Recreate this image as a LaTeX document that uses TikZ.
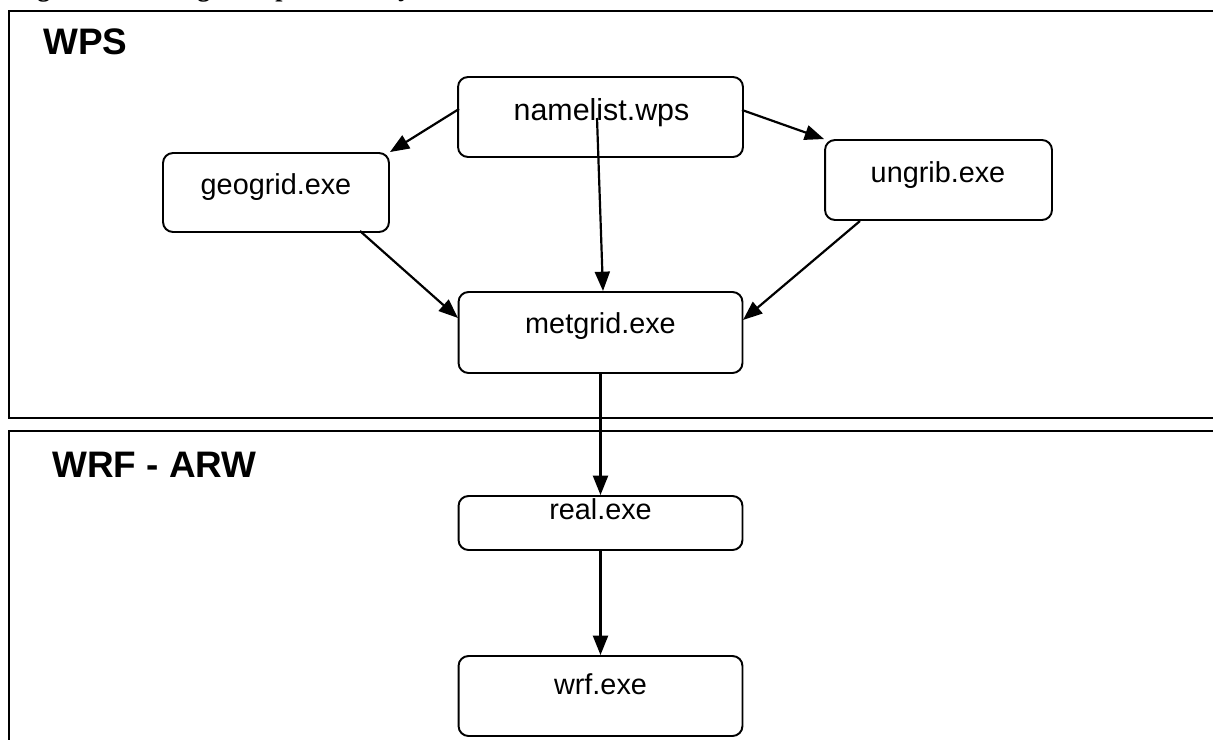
\documentclass[tikz,border=0pt]{standalone}
\usepackage{fontspec}
\newfontfamily\arialf{Liberation Sans}
\newfontfamily\serff{Liberation Serif}
\usetikzlibrary{arrows.meta,calc}
\tikzset{
  box/.style={draw, line width=1.1pt, rounded corners=0.2cm, inner sep=0pt},
  boxtext/.style={anchor=base, inner sep=0pt, font=\arialf\fontsize{16.4pt}{18pt}\selectfont},
  frame/.style={line width=1.2pt},
  arr/.style={line width=1.25pt, -{Triangle[length=11pt,width=8.5pt]}},
  title/.style={anchor=base west, inner sep=0pt, font=\arialf\bfseries\fontsize{21pt}{24pt}\selectfont}
}
\begin{document}
\begin{tikzpicture}[x=0.02cm,y=-0.02cm]
\useasboundingbox (0,0) rectangle (1213,740);
% caption (cut off at top)
\node[anchor=base west, inner sep=0pt, font=\serff\bfseries\fontsize{14.7pt}{16pt}\selectfont] (cap) at (14,-3) {Figura 1 – Fluxograma para execução do modelo.};
% frames
\draw[frame] (1213,11) -- (9,11) -- (9,418) -- (1213,418);
\draw[frame] (1213,431) -- (9,431) -- (9,740);
\node[title] (wps) at (43,55) {WPS};
\node[title] (wrfarw) at (52,477) {WRF - ARW};
% boxes
\node[box, minimum width=5.7cm, minimum height=1.6cm] (ns) at (600.5,117) {};
\node[box, minimum width=4.52cm, minimum height=1.58cm] (geo) at (276,192.5) {};
\node[box, minimum width=4.54cm, minimum height=1.6cm] (ung) at (938.5,180) {};
\node[box, minimum width=5.68cm, minimum height=1.62cm] (met) at (600.5,332.5) {};
\node[box, minimum width=5.68cm, minimum height=1.08cm] (real) at (600.5,523) {};
\node[box, minimum width=5.68cm, minimum height=1.6cm] (wrf) at (600.5,696) {};
% texts
\node[boxtext, font=\arialf\fontsize{17.3pt}{19pt}\selectfont] (nst) at (601.5,120) {namelist.wps};
\node[boxtext] (geot) at (276,194) {geogrid.exe};
\node[boxtext] (ungt) at (938,182) {ungrib.exe};
\node[boxtext] (mett) at (600.5,333) {metgrid.exe};
\node[boxtext] (realt) at (600.5,519) {real.exe};
\node[boxtext] (wrft) at (600.5,694) {wrf.exe};
% connector anchors
\coordinate (nsl) at (459,109);
\coordinate (nsr) at (742,110);
\coordinate (nsm) at (597,118);
\coordinate (metn) at (603,291);
\coordinate (geos) at (360,231);
\coordinate (metw) at (458,318);
\coordinate (ungs) at (860,221);
\coordinate (mete) at (743,320);
% connectors
\draw[arr] (nsl) -- (geo.north east);
\draw[arr] (nsr) -- (ung.north west);
\draw[arr] (nsm) -- (metn);
\draw[arr] (geos) -- (metw);
\draw[arr] (ungs) -- (mete);
\draw[arr] (met.south) -- (real.north);
\draw[arr] (real.south) -- (wrf.north);
\end{tikzpicture}
\end{document}
